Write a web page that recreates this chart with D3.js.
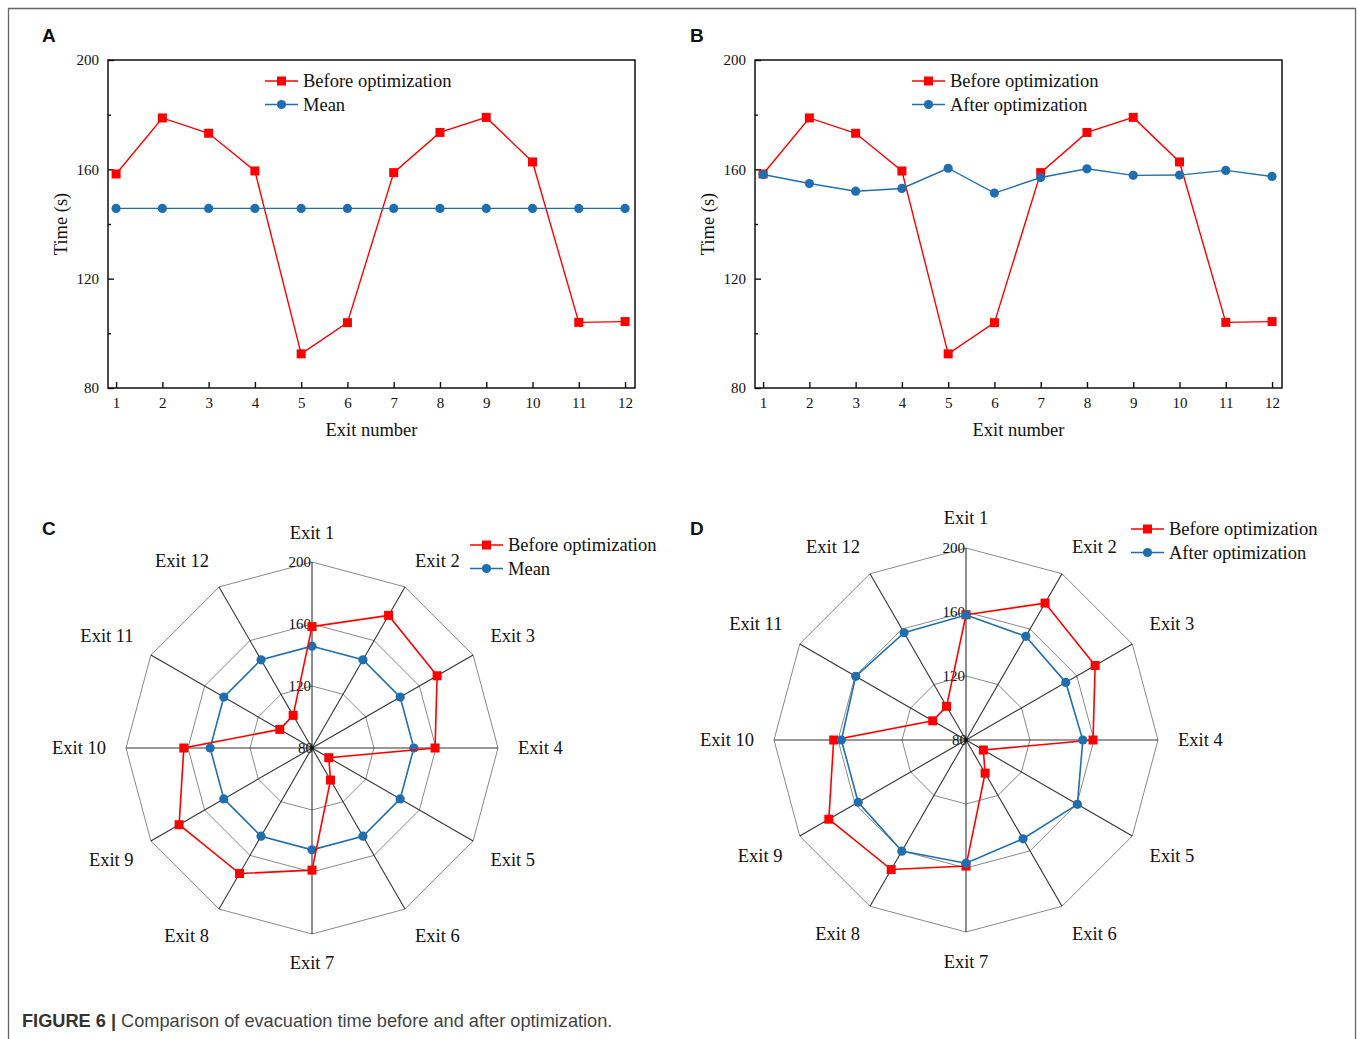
<!DOCTYPE html>
<html>
<head>
<meta charset="utf-8">
<script src="https://cdn.jsdelivr.net/npm/d3@7"></script>
<style>
  html, body { margin: 0; padding: 0; background: #fff; }
  svg { display: block; }
</style>
</head>
<body>
<svg id="chart" width="1358" height="1039"></svg>
<script>
// ---------- DATA ----------
const exits = [1, 2, 3, 4, 5, 6, 7, 8, 9, 10, 11, 12];
const exitLabels = ["Exit 1","Exit 2","Exit 3","Exit 4","Exit 5","Exit 6","Exit 7","Exit 8","Exit 9","Exit 10","Exit 11","Exit 12"];
const beforeOpt = [158.3, 178.8, 173.2, 159.4, 92.5, 103.9, 158.8, 173.5, 179.0, 162.7, 104.0, 104.3];
const meanVal = [145.7, 145.7, 145.7, 145.7, 145.7, 145.7, 145.7, 145.7, 145.7, 145.7, 145.7, 145.7];
const afterOpt = [158.1, 154.8, 152.0, 153.0, 160.4, 151.3, 157.0, 160.2, 157.8, 157.9, 159.6, 157.4];
const yTicks = [80, 120, 160, 200];
const yMinorTicks = [100, 140, 180];
const radarTicks = [80, 120, 160, 200];
const seriesNames = { before: "Before optimization", mean: "Mean", after: "After optimization" };

// ---------- STYLE ----------
const RED = "#ff0000";
const BLUE = "#1f6fb0";
const SERIF = "'Liberation Serif','Times New Roman',serif";
const SANS = "'Liberation Sans',Arial,sans-serif";
const TICK_FS = 15;
const LABEL_FS = 18.5;

const svg = d3.select("#chart");

// figure border
svg.append("path")
  .attr("d", "M8.5,1039 L8.5,8.5 L1355.5,8.5 L1355.5,1039")
  .attr("fill", "none").attr("stroke", "#666").attr("stroke-width", 1.3);

// panel letters
[["A", 42, 42], ["B", 690, 42], ["C", 42, 535], ["D", 690, 535]].forEach(([t, x, y]) => {
  svg.append("text").attr("x", x).attr("y", y).text(t)
    .attr("font-family", SANS).attr("font-weight", "bold").attr("font-size", 19).attr("fill", "#111");
});

// caption
const cap = svg.append("text").attr("x", 22).attr("y", 1027)
  .attr("font-family", SANS).attr("font-size", 18.2).attr("fill", "#444");
cap.append("tspan").attr("font-weight", "bold").attr("fill", "#333").text("FIGURE 6 | ");
cap.append("tspan").text("Comparison of evacuation time before and after optimization.");

function drawMarkers(g, pts, shape, color) {
  if (shape === "square") {
    g.selectAll(null).data(pts).enter().append("rect")
      .attr("x", d => d[0] - 4.5).attr("y", d => d[1] - 4.5).attr("width", 9).attr("height", 9)
      .attr("fill", color);
  } else {
    g.selectAll(null).data(pts).enter().append("circle")
      .attr("cx", d => d[0]).attr("cy", d => d[1]).attr("r", 4.6).attr("fill", color);
  }
}

function drawLegend(g, items, lx, ly) {
  items.forEach((s, k) => {
    const yy = ly + k * 23.5;
    g.append("line").attr("x1", lx).attr("x2", lx + 33).attr("y1", yy).attr("y2", yy)
      .attr("stroke", s.color).attr("stroke-width", 1.4);
    drawMarkers(g, [[lx + 16.5, yy]], s.shape, s.color);
    g.append("text").attr("x", lx + 38).attr("y", yy).attr("dy", "0.33em")
      .attr("font-family", SERIF).attr("font-size", LABEL_FS).attr("fill", "#111").text(s.name);
  });
}

// ---------- LINE PANELS ----------
function linePanel(opt) {
  const { x0, x1, y0, y1, series } = opt;
  const g = svg.append("g");
  const x = d3.scaleLinear().domain([0.825, 12.215]).range([x0, x1]);
  const y = d3.scaleLinear().domain([80, 200]).range([y1, y0]);

  g.append("rect").attr("x", x0).attr("y", y0).attr("width", x1 - x0).attr("height", y1 - y0)
    .attr("fill", "none").attr("stroke", "#111").attr("stroke-width", 1.5);

  const xAxis = d3.axisBottom(x).tickValues(exits).tickSizeInner(-6).tickSizeOuter(0).tickPadding(9).tickFormat(d3.format("d"));
  const gx = g.append("g").attr("transform", `translate(0,${y1})`).call(xAxis);
  const yAxis = d3.axisLeft(y).tickValues(yTicks).tickSizeInner(-6).tickSizeOuter(0).tickPadding(9);
  const gy = g.append("g").attr("transform", `translate(${x0},0)`).call(yAxis);
  const yMinor = d3.axisLeft(y).tickValues(yMinorTicks).tickSizeInner(-3).tickSizeOuter(0).tickFormat("");
  const gym = g.append("g").attr("transform", `translate(${x0},0)`).call(yMinor);
  [gx, gy, gym].forEach(a => {
    a.attr("font-size", TICK_FS).attr("font-family", SERIF);
    a.select(".domain").remove();
    a.selectAll("line").attr("stroke", "#111").attr("stroke-width", 1.4);
    a.selectAll("text").attr("font-family", SERIF).attr("font-size", TICK_FS).attr("fill", "#111");
  });

  g.append("text").attr("x", (x0 + x1) / 2).attr("y", y1 + 48).attr("text-anchor", "middle")
    .attr("font-family", SERIF).attr("font-size", LABEL_FS).attr("fill", "#111").text("Exit number");
  g.append("text").attr("transform", `translate(${x0 - 41},${(y0 + y1) / 2}) rotate(-90)`)
    .attr("text-anchor", "middle").attr("font-family", SERIF).attr("font-size", LABEL_FS).attr("fill", "#111").text("Time (s)");

  const line = d3.line().x((d, i) => x(exits[i])).y(d => y(d));
  series.forEach(s => {
    g.append("path").datum(s.values).attr("d", line).attr("fill", "none")
      .attr("stroke", s.color).attr("stroke-width", 1.4);
    drawMarkers(g, s.values.map((v, i) => [x(exits[i]), y(v)]), s.shape, s.color);
  });

  drawLegend(g, opt.legendOrder, opt.legendX, y0 + 21);
}

const sBefore = { name: seriesNames.before, values: beforeOpt, color: RED, shape: "square" };
const sMean = { name: seriesNames.mean, values: meanVal, color: BLUE, shape: "circle" };
const sAfter = { name: seriesNames.after, values: afterOpt, color: BLUE, shape: "circle" };

linePanel({ x0: 108, x1: 635, y0: 60, y1: 388, series: [sBefore, sMean], legendOrder: [sBefore, sMean], legendX: 265 });
linePanel({ x0: 755, x1: 1282, y0: 60, y1: 388, series: [sBefore, sAfter], legendOrder: [sBefore, sAfter], legendX: 912 });

// ---------- RADAR PANELS ----------
function radarPanel(opt) {
  const { cx, cy, R, series, labelR, labelOff } = opt;
  const g = svg.append("g").attr("transform", `translate(${cx},${cy})`);
  const r = d3.scaleLinear().domain([80, 200]).range([0, R]);
  const ang = d3.scaleLinear().domain([0, 12]).range([0, 2 * Math.PI]);
  const pt = (i, v) => [Math.sin(ang(i)) * r(v), -Math.cos(ang(i)) * r(v)];

  radarTicks.filter(t => t > 80).forEach(t => {
    g.append("path").attr("d", d3.line()(exits.map((e, i) => pt(i, t))) + "Z")
      .attr("fill", "none").attr("stroke", "#8a8a8a").attr("stroke-width", 1);
  });
  exits.forEach((e, i) => {
    const p = pt(i, 200);
    g.append("line").attr("x1", 0).attr("y1", 0).attr("x2", p[0]).attr("y2", p[1])
      .attr("stroke", "#333").attr("stroke-width", 1.1);
  });
  radarTicks.forEach(t => {
    g.append("text").attr("x", t === 80 ? 1 : -1).attr("y", -r(t)).attr("dy", "0.35em")
      .attr("text-anchor", "end").attr("font-family", SERIF).attr("font-size", TICK_FS).attr("fill", "#111").text(t);
  });
  g.append("circle").attr("r", 2).attr("fill", "#111");

  exitLabels.forEach((lab, i) => {
    const a = ang(i);
    const s = Math.sin(a), c = Math.cos(a);
    const anchor = s < -0.01 ? "end" : (s > 0.01 ? "start" : "middle");
    const yOff = Math.abs(c) > 0.01 ? -Math.sign(c) * labelOff : 0;
    g.append("text").attr("x", s * labelR).attr("y", -c * labelR + yOff).attr("dy", "0.35em")
      .attr("text-anchor", anchor).attr("font-family", SERIF).attr("font-size", LABEL_FS).attr("fill", "#111").text(lab);
  });

  const line = d3.line();
  series.forEach(s => {
    const pts = s.values.map((v, i) => pt(i, v));
    g.append("path").attr("d", line(pts) + "Z").attr("fill", "none")
      .attr("stroke", s.color).attr("stroke-width", 1.6);
    drawMarkers(g, pts, s.shape, s.color);
  });

  drawLegend(svg.append("g"), opt.legendOrder, opt.legendX, opt.legendY);
}

radarPanel({ cx: 312, cy: 748, R: 186, labelR: 206, labelOff: 9, series: [sMean, sBefore], legendOrder: [sBefore, sMean], legendX: 470, legendY: 545 });
radarPanel({ cx: 966, cy: 740, R: 192, labelR: 212, labelOff: 10, series: [sBefore, sAfter], legendOrder: [sBefore, sAfter], legendX: 1131, legendY: 529 });
</script>
</body>
</html>
